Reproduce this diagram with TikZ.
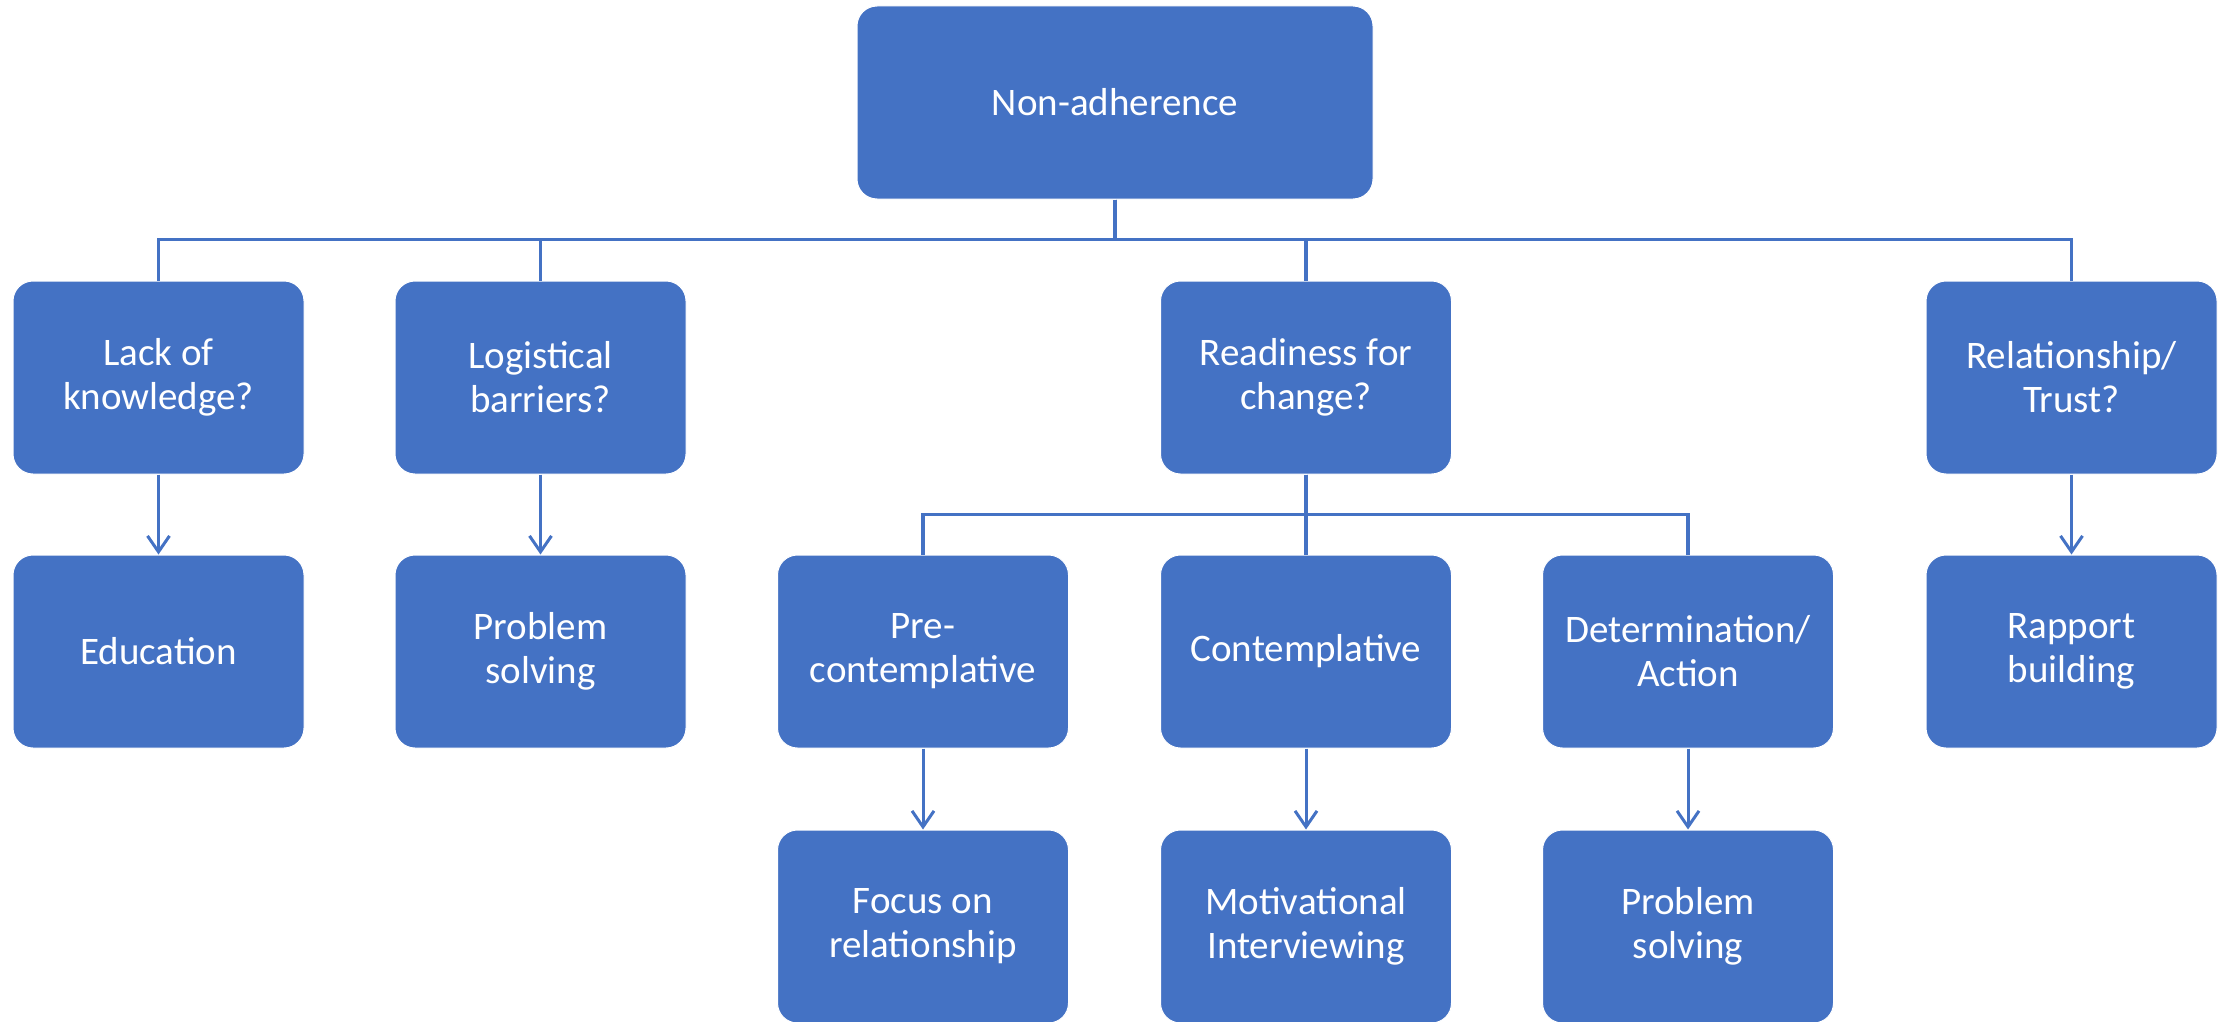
\documentclass[tikz,border=0pt]{standalone}
\usepackage{fontspec}
\setmainfont{Carlito}
\usetikzlibrary{arrows.meta}
\definecolor{boxblue}{HTML}{4472C4}
\tikzset{
  box/.style={rectangle, rounded corners=20pt, fill=boxblue, draw=white, line width=1pt,
    minimum width=291pt, minimum height=193pt, inner sep=0pt, align=center,
    text=white, font=\fontsize{39}{44}\selectfont},
  topbox/.style={box, minimum width=516pt},
  conn/.style={draw=boxblue, line width=3.5pt},
  arr/.style={draw=boxblue, line width=3pt, -{Straight Barb[length=16pt,width=22pt,line width=3pt]}}
}
\begin{document}
\begin{tikzpicture}[x=1pt,y=-1pt]
\useasboundingbox (0,0) rectangle (2234,1022);
% top
\node[topbox] (top) at (1115,102.5) {Non-adherence};
% row 1
\node[box] (lack) at (158.5,377.5) {Lack of\\knowledge?};
\node[box] (logi) at (540.5,377.5) {Logistical\\barriers?};
\node[box] (ready) at (1306,377.5) {Readiness for\\change?};
\node[box] (rel) at (2071.5,377.5) {Relationship/\\Trust?};
% row 2
\node[box] (edu) at (158.5,651.5) {Education};
\node[box] (prob) at (540.5,651.5) {Problem\\solving};
\node[box] (pre) at (923,651.5) {Pre-\\contemplative};
\node[box] (cont) at (1306,651.5) {Contemplative};
\node[box] (det) at (1688,651.5) {Determination/\\Action};
\node[box] (rap) at (2071.5,651.5) {Rapport\\building};
% row 3
\node[box] (focus) at (923,926.5) {Focus on\\relationship};
\node[box] (mot) at (1306,926.5) {Motivational\\Interviewing};
\node[box] (prob2) at (1688,926.5) {Problem\\solving};
% bus from top
\foreach \c in {lack,logi,ready,rel}
  \draw[conn] (top.south) -- ++(0,40) -| (\c.north);
% bus from readiness
\foreach \c in {pre,cont,det}
  \draw[conn] (ready.south) -- ++(0,40) -| (\c.north);
% arrows
\draw[arr] (lack) -- (edu);
\draw[arr] (logi) -- (prob);
\draw[arr] (rel) -- (rap);
\draw[arr] (pre) -- (focus);
\draw[arr] (cont) -- (mot);
\draw[arr] (det) -- (prob2);
\end{tikzpicture}
\end{document}
